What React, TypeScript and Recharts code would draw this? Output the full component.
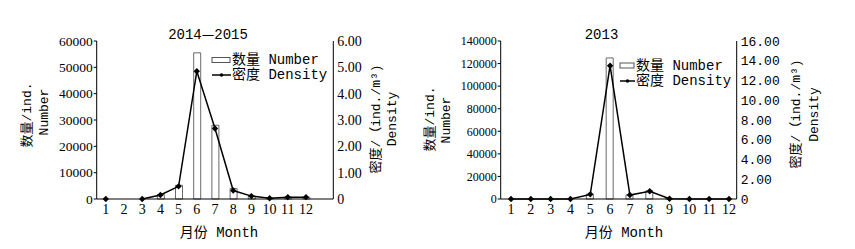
import React from 'react';
import { ComposedChart, Bar, Line, XAxis, YAxis } from 'recharts';

// ---------- data ----------
const months = [1, 2, 3, 4, 5, 6, 7, 8, 9, 10, 11, 12];
const monthBounds = [1.5, 2.5, 3.5, 4.5, 5.5, 6.5, 7.5, 8.5, 9.5, 10.5, 11.5, 12.5];

const number2014 = [0, null, 0, 1700, 5200, 55500, 28000, 4000, 1100, 300, 700, 700];
const density2014 = [0, null, 0, 0.15, 0.48, 4.85, 2.68, 0.32, 0.11, 0.03, 0.07, 0.07];
const leftTicks2014 = [0, 10000, 20000, 30000, 40000, 50000, 60000];
const rightTicks2014 = [0, 1, 2, 3, 4, 5, 6];

const number2013 = [0, 0, 0, 0, 4300, 125000, 3700, 7200, 500, 0, 0, 0];
const density2013 = [0, 0, 0, 0, 0.47, 13.5, 0.4, 0.78, 0.03, 0, 0, 0];
const leftTicks2013 = [0, 20000, 40000, 60000, 80000, 100000, 120000, 140000];
const rightTicks2013 = [0, 2, 4, 6, 8, 10, 12, 14, 16];

const data2014 = months.map((m, i) => ({ month: m, number: number2014[i], density: density2014[i] }));
const data2013 = months.map((m, i) => ({ month: m, number: number2013[i], density: density2013[i] }));

// ---------- styles ----------
const SERIF = "'Liberation Serif', 'DejaVu Serif', serif";
const MIXED = "'Liberation Mono', 'Noto Sans CJK SC', monospace";
const CJK = "'Noto Sans CJK SC', sans-serif";

const renderNothing = () => <g />;
const fmtDensity = (v: number) => (v === 0 ? '0' : v.toFixed(2));

const Diamond = (p: any) => {
  const { cx, cy, index } = p;
  if (cx == null || cy == null || p.value == null) return <g key={`d${index}`} />;
  const r = 3.2;
  return (
    <path
      key={`d${index}`}
      d={`M${cx},${cy - r}L${cx + r},${cy}L${cx},${cy + r}L${cx - r},${cy}Z`}
      fill="#000"
    />
  );
};

type PanelProps = {
  data: any[];
  width: number;
  margin: { top: number; right: number; bottom: number; left: number };
  xDomain: [number, number];
  leftDomain: [number, number];
  leftTicks: number[];
  rightDomain: [number, number];
  rightTicks: number[];
  leftTickStyle: any;
  rightTickStyle: any;
  xTickStyle: any;
};

function Panel(props: PanelProps) {
  const {
    data, width, margin, xDomain, leftDomain, leftTicks, rightDomain, rightTicks,
    leftTickStyle, rightTickStyle, xTickStyle,
  } = props;
  return (
    <ComposedChart width={width} height={249} data={data} margin={margin}>
      <XAxis
        xAxisId="t"
        type="number"
        dataKey="month"
        domain={xDomain}
        ticks={monthBounds}
        mirror
        height={0}
        axisLine={false}
        tickSize={3}
        tickLine={{ stroke: '#000' }}
        tick={renderNothing}
        allowDataOverflow
      />
      <XAxis
        xAxisId="m"
        type="number"
        dataKey="month"
        domain={xDomain}
        ticks={months}
        interval={0}
        height={30}
        tickLine={false}
        tickSize={0}
        tickMargin={5}
        axisLine={{ stroke: '#000' }}
        tick={xTickStyle}
        allowDataOverflow
      />
      <YAxis
        yAxisId="L"
        orientation="left"
        width={60}
        domain={leftDomain}
        ticks={leftTicks}
        interval={0}
        tickSize={3}
        tickMargin={1}
        tickLine={{ stroke: '#000' }}
        axisLine={{ stroke: '#000' }}
        tick={leftTickStyle}
      />
      <YAxis
        yAxisId="Rt"
        orientation="right"
        mirror
        width={0}
        domain={rightDomain}
        ticks={rightTicks}
        interval={0}
        axisLine={false}
        tickSize={3}
        tickLine={{ stroke: '#000' }}
        tick={renderNothing}
      />
      <YAxis
        yAxisId="R"
        orientation="right"
        width={60}
        domain={rightDomain}
        ticks={rightTicks}
        interval={0}
        tickLine={false}
        tickSize={0}
        tickMargin={4}
        axisLine={{ stroke: '#000' }}
        tick={rightTickStyle}
        tickFormatter={fmtDensity}
      />
      <Bar
        xAxisId="m"
        yAxisId="L"
        dataKey="number"
        barSize={7}
        fill="#fff"
        stroke="#6a6a6a"
        strokeWidth={1}
        isAnimationActive={false}
      />
      <Line
        xAxisId="m"
        yAxisId="R"
        type="linear"
        dataKey="density"
        stroke="#000"
        strokeWidth={1.5}
        dot={Diamond}
        activeDot={false}
        connectNulls={false}
        isAnimationActive={false}
      />
    </ComposedChart>
  );
}

function RotText({ x, y, children, size = 13 }: any) {
  return (
    <text
      x={x}
      y={y}
      transform={`rotate(-90, ${x}, ${y})`}
      textAnchor="middle"
      dominantBaseline="central"
      fontFamily={MIXED}
      fontSize={size}
      fill="#000"
    >
      {children}
    </text>
  );
}

function Legend({ x, y1, y2, rectW }: any) {
  return (
    <g>
      <rect x={x} y={y1 - 2.5} width={rectW} height={5} fill="#fff" stroke="#555" strokeWidth={1} />
      <text x={x + rectW + 2} y={y1} dominantBaseline="central" fontFamily={MIXED} fontSize={14} fill="#000">
        数量 Number
      </text>
      <line x1={x} y1={y2} x2={x + rectW + 1} y2={y2} stroke="#000" strokeWidth={1.5} />
      <circle cx={x + (rectW + 1) / 2} cy={y2} r={1.8} fill="#000" />
      <text x={x + rectW + 2} y={y2} dominantBaseline="central" fontFamily={MIXED} fontSize={14} fill="#000">
        密度 Density
      </text>
    </g>
  );
}

export default function App() {
  return (
    <div style={{ position: 'absolute', left: 0, top: 0, width: 855, height: 249, background: '#fff' }}>
      <div style={{ position: 'absolute', left: 0, top: 0 }}>
        <Panel
          data={data2014}
          width={430}
          margin={{ top: 41, right: 36.7, bottom: 20, left: 36.7 }}
          xDomain={[0.5, 13.5]}
          leftDomain={[0, 60000]}
          leftTicks={leftTicks2014}
          rightDomain={[0, 6]}
          rightTicks={rightTicks2014}
          leftTickStyle={{ fontFamily: SERIF, fontSize: 13.5, fill: '#000' }}
          rightTickStyle={{ fontFamily: SERIF, fontSize: 14, fill: '#000' }}
          xTickStyle={{ fontFamily: SERIF, fontSize: 14, fill: '#000' }}
        />
      </div>
      <div style={{ position: 'absolute', left: 430, top: 0 }}>
        <Panel
          data={data2013}
          width={425}
          margin={{ top: 41, right: 58.3, bottom: 20, left: 10.7 }}
          xDomain={[0.48, 12.39]}
          leftDomain={[0, 140000]}
          leftTicks={leftTicks2013}
          rightDomain={[0, 16]}
          rightTicks={rightTicks2013}
          leftTickStyle={{ fontFamily: SERIF, fontSize: 12, fill: '#000' }}
          rightTickStyle={{ fontFamily: "'Liberation Mono', monospace", fontSize: 13, fill: '#000' }}
          xTickStyle={{ fontFamily: SERIF, fontSize: 14, fill: '#000' }}
        />
      </div>
      <svg
        width={855}
        height={249}
        style={{ position: 'absolute', left: 0, top: 0, pointerEvents: 'none' }}
      >
        {/* left panel */}
        <text x={208} y={39} textAnchor="middle" fontFamily={MIXED} fontSize={14} fill="#000">
          2014<tspan fontFamily={CJK}>—</tspan>2015
        </text>
        <text x={219} y={237} textAnchor="middle" fontFamily={MIXED} fontSize={14} fill="#000">月份 Month</text>
        <RotText x={27} y={115}>数量/ind.</RotText>
        <RotText x={44} y={112}>Number</RotText>
        <RotText x={376.5} y={119}>密度/（ind./m³)</RotText>
        <RotText x={392.5} y={119}>Density</RotText>
        <Legend x={212} y1={60} y2={75} rectW={18} />

        {/* right panel */}
        <text x={601.5} y={39} textAnchor="middle" fontFamily={MIXED} fontSize={14} fill="#000">2013</text>
        <text x={624} y={237} textAnchor="middle" fontFamily={MIXED} fontSize={14} fill="#000">月份 Month</text>
        <RotText x={430} y={119}>数量/ind.</RotText>
        <RotText x={446.5} y={120}>Number</RotText>
        <RotText x={796.5} y={114}>密度/（ind./m³)</RotText>
        <RotText x={814} y={114.5}>Density</RotText>
        <Legend x={620} y1={65.5} y2={81} rectW={14} />
      </svg>
    </div>
  );
}
